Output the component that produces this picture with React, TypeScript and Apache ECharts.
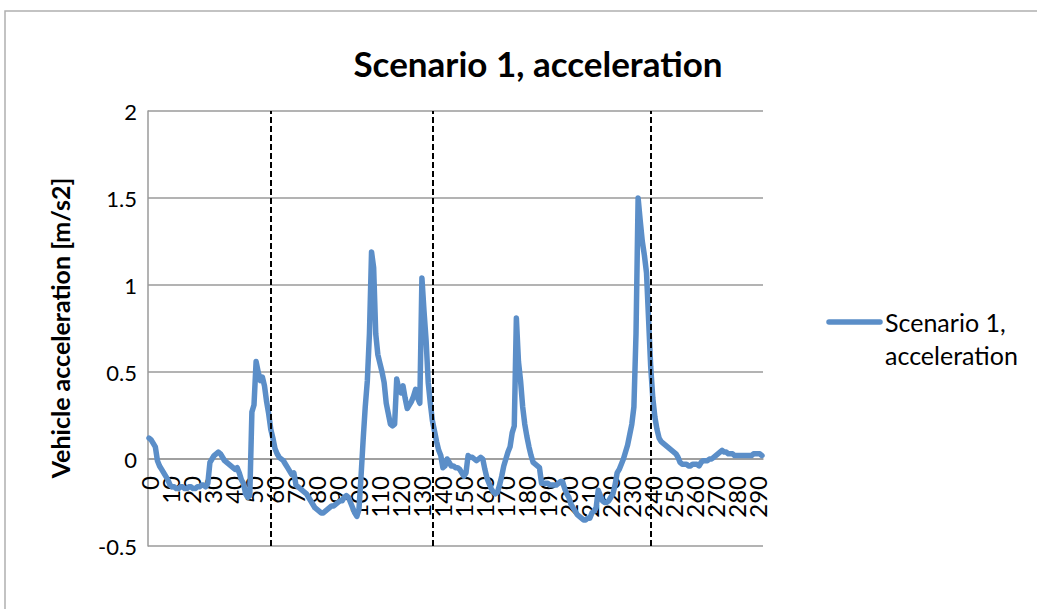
import React, { useEffect, useRef } from 'react';
import * as echarts from 'echarts';

const titleText = 'Scenario 1, acceleration';
const yAxisTitle = 'Vehicle acceleration [m/s2]';
const seriesName = 'Scenario 1, acceleration';
const legendLines = ['Scenario 1,', 'acceleration'];

// Time steps 0..292
const categories: string[] = Array.from({ length: 293 }, (_, i) => String(i));

const acceleration: number[] = [
  // 0-9
  0.12, 0.11, 0.09, 0.07, -0.01, -0.04, -0.06, -0.08, -0.10, -0.12,
  // 10-19
  -0.15, -0.16, -0.16, -0.17, -0.17, -0.16, -0.16, -0.17, -0.17, -0.16,
  // 20-29
  -0.16, -0.17, -0.17, -0.16, -0.16, -0.15, -0.15, -0.16, -0.14, -0.02,
  // 30-39
  0.00, 0.02, 0.03, 0.04, 0.03, 0.01, -0.01, -0.02, -0.03, -0.04,
  // 40-49
  -0.05, -0.06, -0.05, -0.08, -0.12, -0.14, -0.20, -0.22, -0.21, 0.27,
  // 50-59
  0.31, 0.56, 0.50, 0.45, 0.47, 0.42, 0.33, 0.26, 0.17, 0.12,
  // 60-69
  0.06, 0.03, 0.01, 0.00, -0.01, -0.03, -0.05, -0.07, -0.09, -0.08,
  // 70-79
  -0.15, -0.16, -0.17, -0.18, -0.19, -0.20, -0.22, -0.24, -0.26, -0.28,
  // 80-89
  -0.29, -0.30, -0.31, -0.31, -0.30, -0.29, -0.28, -0.27, -0.27, -0.26,
  // 90-99
  -0.25, -0.24, -0.24, -0.22, -0.21, -0.22, -0.25, -0.28, -0.31, -0.33,
  // 100-109
  -0.29, -0.10, 0.11, 0.30, 0.45, 0.72, 1.19, 1.10, 0.72, 0.60,
  // 110-119
  0.55, 0.50, 0.44, 0.32, 0.26, 0.20, 0.19, 0.20, 0.46, 0.40,
  // 120-129
  0.38, 0.42, 0.35, 0.29, 0.31, 0.33, 0.36, 0.40, 0.35, 0.32,
  // 130-139
  1.04, 0.85, 0.68, 0.44, 0.32, 0.22, 0.16, 0.10, 0.05, 0.02,
  // 140-149
  -0.05, -0.04, 0.00, -0.02, -0.04, -0.04, -0.05, -0.05, -0.06, -0.08,
  // 150-159
  -0.10, -0.08, 0.02, 0.01, 0.01, 0.00, -0.01, 0.00, 0.01, 0.00,
  // 160-169
  -0.06, -0.11, -0.14, -0.17, -0.19, -0.20, -0.19, -0.15, -0.10, -0.04,
  // 170-179
  0.00, 0.04, 0.07, 0.15, 0.19, 0.81, 0.56, 0.45, 0.30, 0.20,
  // 180-189
  0.13, 0.07, 0.02, -0.02, -0.03, -0.04, -0.05, -0.14, -0.14, -0.14,
  // 190-199
  -0.14, -0.15, -0.15, -0.15, -0.15, -0.14, -0.13, -0.13, -0.17, -0.20,
  // 200-209
  -0.22, -0.26, -0.28, -0.30, -0.32, -0.33, -0.34, -0.35, -0.35, -0.34,
  // 210-219
  -0.34, -0.31, -0.30, -0.28, -0.18, -0.21, -0.24, -0.25, -0.25, -0.24,
  // 220-229
  -0.22, -0.20, -0.15, -0.08, -0.06, -0.03, 0.00, 0.04, 0.08, 0.14,
  // 230-239
  0.20, 0.30, 0.72, 1.50, 1.37, 1.25, 1.17, 1.07, 0.80, 0.53,
  // 240-249
  0.35, 0.24, 0.17, 0.12, 0.10, 0.09, 0.08, 0.07, 0.06, 0.05,
  // 250-259
  0.04, 0.03, 0.01, -0.02, -0.03, -0.03, -0.03, -0.04, -0.04, -0.03,
  // 260-269
  -0.03, -0.03, -0.04, -0.02, -0.01, -0.01, -0.01, 0.00, 0.00, 0.01,
  // 270-279
  0.02, 0.03, 0.04, 0.05, 0.04, 0.04, 0.03, 0.03, 0.03, 0.02,
  // 280-289
  0.02, 0.02, 0.02, 0.02, 0.02, 0.02, 0.02, 0.02, 0.03, 0.03,
  // 290-292
  0.03, 0.03, 0.02,
];

const dividerCategories: string[] = ['58', '135', '239'];

const yMin = -0.5;
const yMax = 2;
const yInterval = 0.5;
const xLabelStep = 10;

const LINE_COLOR = '#5b8ec8';
const GRID_COLOR = '#9a9a9a';

// grid geometry
const GRID_TOP = 111;
const GRID_BOTTOM = 63;
const CHART_H = 609;

export default function App() {
  const ref = useRef<HTMLDivElement>(null);

  useEffect(() => {
    if (!ref.current) return;
    const chart = echarts.init(ref.current, null, { renderer: 'svg' });
    // distance from the bottom of the plot to the zero line (axis crosses at 0)
    const plotH = CHART_H - GRID_TOP - GRID_BOTTOM;
    const zeroOffset = (plotH * (0 - yMin)) / (yMax - yMin);
    chart.setOption({
      animation: false,
      backgroundColor: '#ffffff',
      grid: { left: 148, right: 292, top: GRID_TOP, bottom: GRID_BOTTOM, containLabel: false },
      xAxis: {
        type: 'category',
        data: categories,
        boundaryGap: true,
        offset: -zeroOffset,
        axisLine: { show: true, onZero: false, lineStyle: { color: GRID_COLOR, width: 1.5 } },
        axisTick: { show: false },
        axisLabel: {
          interval: 0,
          hideOverlap: false,
          showMinLabel: true,
          rotate: 90,
          margin: 17,
          fontFamily: 'Lato',
          fontSize: 24,
          color: '#000',
          formatter: (v: string, i: number) => (i % xLabelStep === 0 ? v : ''),
        },
        splitLine: { show: false },
      },
      yAxis: {
        type: 'value',
        min: yMin,
        max: yMax,
        interval: yInterval,
        axisLine: { show: true, lineStyle: { color: GRID_COLOR, width: 1.5 } },
        axisTick: { show: false },
        axisLabel: {
          margin: 11,
          fontFamily: 'Lato',
          fontSize: 22,
          color: '#000',
          formatter: (v: number) => String(v),
        },
        splitLine: { show: true, lineStyle: { color: GRID_COLOR, width: 1.5 } },
      },
      series: [
        {
          name: seriesName,
          type: 'line',
          data: acceleration,
          showSymbol: false,
          symbol: 'none',
          lineStyle: { color: LINE_COLOR, width: 5.5, join: 'round', cap: 'round' },
          markLine: {
            silent: true,
            symbol: ['none', 'none'],
            label: { show: false },
            lineStyle: { color: '#000', width: 2, type: [6, 3] },
            data: dividerCategories.map((c) => ({ xAxis: c })),
          },
        },
      ],
      graphic: [
        {
          type: 'polyline',
          shape: { points: [[5, 660], [5, 11], [1037, 11]] },
          style: { stroke: '#b0b0b0', lineWidth: 1.5, fill: null },
          silent: true,
        },
        {
          type: 'text',
          x: 538,
          y: 63,
          style: {
            text: titleText,
            fontFamily: 'Lato',
            fontWeight: 'bold',
            fontSize: 35,
            fill: '#000',
            textAlign: 'center',
            textVerticalAlign: 'middle',
          },
        },
        {
          type: 'text',
          x: 60,
          y: 328,
          rotation: Math.PI / 2,
          style: {
            text: yAxisTitle,
            fontFamily: 'Lato',
            fontWeight: 'bold',
            fontSize: 25,
            fill: '#000',
            textAlign: 'center',
            textVerticalAlign: 'middle',
          },
        },
        {
          type: 'line',
          shape: { x1: 829, y1: 322, x2: 880, y2: 322 },
          style: { stroke: LINE_COLOR, lineWidth: 5.5, lineCap: 'round' },
        },
        {
          type: 'text',
          x: 885,
          y: 322,
          style: {
            text: legendLines[0],
            fontFamily: 'Lato',
            fontSize: 25,
            fill: '#000',
            textAlign: 'left',
            textVerticalAlign: 'middle',
          },
        },
        {
          type: 'text',
          x: 885,
          y: 355,
          style: {
            text: legendLines[1],
            fontFamily: 'Lato',
            fontSize: 25,
            fill: '#000',
            textAlign: 'left',
            textVerticalAlign: 'middle',
          },
        },
      ],
    });
    return () => chart.dispose();
  }, []);

  return (
    <div
      ref={ref}
      style={{ position: 'fixed', left: 0, top: 0, width: 1055, height: 609, background: '#fff' }}
    />
  );
}
